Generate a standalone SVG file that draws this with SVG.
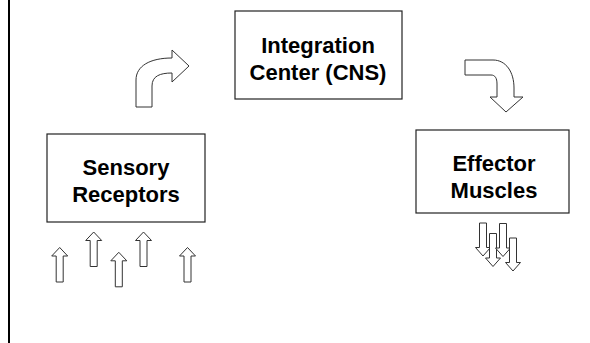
<svg xmlns="http://www.w3.org/2000/svg" xmlns:xlink="http://www.w3.org/1999/xlink" width="590" height="343" viewBox="0 0 590 343">
  <style>
    .box { fill: #ffffff; stroke: #222222; stroke-width: 1.2; }
    .label { font-family: "Liberation Sans", Arial, sans-serif; font-weight: bold; font-size: 22px; fill: #000000; text-anchor: middle; }
    .arrow { fill: #ffffff; stroke: #333333; stroke-width: 1; stroke-linejoin: miter; }
  </style>
  <defs>
    <!-- small block arrows, tip at the origin -->
    <path id="upArrow" d="M0,0 L8,8.5 L3.5,8.5 L3.5,34.5 L-3.5,34.5 L-3.5,8.5 L-8,8.5 Z"/>
    <path id="downArrow" d="M0,0 L-7.5,-8.5 L-3.5,-8.5 L-3.5,-33 L3.5,-33 L3.5,-8.5 L7.5,-8.5 Z"/>
  </defs>

  <rect width="590" height="343" fill="#ffffff"/>
  <!-- left margin rule -->
  <rect x="8" y="0" width="2" height="343" fill="#000000"/>

  <g id="integration-center">
    <rect class="box" x="235" y="11" width="167" height="88"/>
    <text class="label" x="318" y="53">Integration</text>
    <text class="label" x="318" y="80">Center (CNS)</text>
  </g>

  <g id="sensory-receptors">
    <rect class="box" x="47" y="134" width="158" height="88"/>
    <text class="label" x="126" y="175">Sensory</text>
    <text class="label" x="126" y="202">Receptors</text>
  </g>

  <g id="effector-muscles">
    <rect class="box" x="416" y="130" width="153" height="83"/>
    <text class="label" x="494" y="170.5">Effector</text>
    <text class="label" x="494" y="197.5">Muscles</text>
  </g>

  <g id="connectors">
    <!-- receptors to integration center -->
    <path class="arrow" d="M136,107 L136,80 C136,66 150,58 172,58 L172,50 L189,66 L172,82 L172,73 C160,73 152,76 152,86 L152,107 Z"/>
    <!-- integration center to effectors -->
    <path class="arrow" d="M465,60 L493,60 C506,60 514,72 514,88 L514,97 L523,97 L506,112 L490,97 L497,97 L497,84 C497,78 495,75 491,75 L465,75 Z"/>
  </g>

  <g id="stimuli">
    <use xlink:href="#upArrow" class="arrow" transform="translate(59.7,247.5)"/>
    <use xlink:href="#upArrow" class="arrow" transform="translate(93.7,232)"/>
    <use xlink:href="#upArrow" class="arrow" transform="translate(118.8,252.3)"/>
    <use xlink:href="#upArrow" class="arrow" transform="translate(143.5,232)"/>
    <use xlink:href="#upArrow" class="arrow" transform="translate(187.5,247.5)"/>
  </g>

  <g id="responses">
    <use xlink:href="#downArrow" class="arrow" transform="translate(483,256)"/>
    <use xlink:href="#downArrow" class="arrow" transform="translate(493,266.5)"/>
    <use xlink:href="#downArrow" class="arrow" transform="translate(503,256.5)"/>
    <use xlink:href="#downArrow" class="arrow" transform="translate(513,271)"/>
  </g>
</svg>
